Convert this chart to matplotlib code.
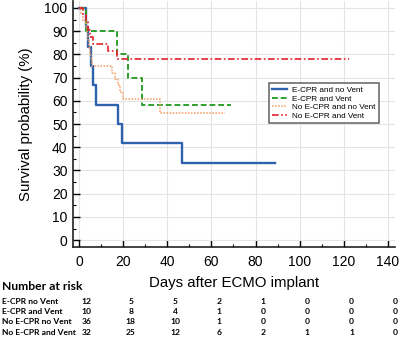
import matplotlib
matplotlib.use("Agg")
import matplotlib.pyplot as plt
from matplotlib.ticker import MultipleLocator
from matplotlib.transforms import blended_transform_factory

# Kaplan-Meier steps (days, survival %)
ecpr_novent_t = [0, 3, 4, 5.5, 6.5, 7.5, 17.5, 19.5, 46.5, 89]
ecpr_novent_s = [100, 91.7, 83.3, 75, 66.7, 58.3, 50, 41.7, 33.3, 33.3]

ecpr_vent_t = [0, 3.2, 17.4, 22.3, 28.4, 69]
ecpr_vent_s = [100, 90, 80, 70, 58.3, 58.3]

noecpr_novent_t = [0, 1, 2, 3, 3.5, 4, 4.5, 5, 5.5, 6, 15, 16.5, 17.5, 18.5, 20, 36.5, 66]
noecpr_novent_s = [100, 97.2, 94.4, 91.7, 88.9, 86.1, 83.3, 80.6, 77.8, 75,
                   72.2, 69.4, 66.7, 63.9, 60.6, 54.6, 54.6]

noecpr_vent_t = [0, 2, 3, 4, 5, 6.5, 13.3, 17.4, 122.3]
noecpr_vent_s = [100, 96.9, 93.8, 90.6, 87.5, 84.4, 81.3, 78.1, 78.1]

risk_days = [0, 20, 40, 60, 80, 100, 120, 140]
risk_labels = ["E-CPR no Vent", "E-CPR and Vent", "No E-CPR no Vent", "No E-CPR and Vent"]
risk_counts = [
    [12, 5, 5, 2, 1, 0, 0, 0],
    [10, 8, 4, 1, 0, 0, 0, 0],
    [36, 18, 10, 1, 0, 0, 0, 0],
    [32, 25, 12, 6, 2, 1, 1, 0],
]

plt.rcParams["font.family"] = ["Liberation Sans", "DejaVu Sans"]
table_font = ["Lato", "DejaVu Sans"]

fig = plt.figure(figsize=(4.0, 3.38), dpi=100)
ax = fig.add_axes([0.1825, 0.269, 0.804, 0.728])

ax.step(ecpr_novent_t, ecpr_novent_s, where="post", color="#2f62ad", lw=1.7,
        label="E-CPR and no Vent")
ax.step(ecpr_vent_t, ecpr_vent_s, where="post", color="#2ea02c", lw=1.4,
        ls=(0, (3, 1.5)), label="E-CPR and Vent")
ax.step(noecpr_novent_t, noecpr_novent_s, where="post", color="#f59a5c", lw=1.1,
        ls=(0, (1, 1)), label="No E-CPR and no Vent")
ax.step(noecpr_vent_t, noecpr_vent_s, where="post", color="#e3202b", lw=1.2,
        ls=(0, (4, 1.5, 1, 1.5)), label="No E-CPR and Vent")

ax.set_xlim(-2.7, 143)
ax.set_ylim(-3, 103)
ax.xaxis.set_major_locator(MultipleLocator(20))
ax.xaxis.set_minor_locator(MultipleLocator(10))
ax.yaxis.set_major_locator(MultipleLocator(10))
ax.yaxis.set_minor_locator(MultipleLocator(5))
ax.grid(True, which="major", color="#e4e4e4", lw=0.8)
ax.set_axisbelow(True)
for side in ("top", "right"):
    ax.spines[side].set_visible(False)
for side in ("left", "bottom"):
    ax.spines[side].set_color("#222222")
    ax.spines[side].set_linewidth(1.2)
ax.tick_params(which="major", direction="in", length=5, width=1, labelsize=10)
ax.tick_params(axis="y", which="major", pad=4)
ax.tick_params(axis="x", which="major", pad=6)
ax.tick_params(which="minor", direction="in", length=2.5, width=0.8)

ax.set_ylabel("Survival probability (%)", fontsize=10.8, labelpad=8)
ax.set_xlabel("Days after ECMO implant", fontsize=10.8, labelpad=5)

leg = ax.legend(loc="upper left", bbox_to_anchor=(0.61, 0.667), fontsize=5.9,
                frameon=True, fancybox=False, handlelength=1.8, borderpad=0.4,
                labelspacing=0.1, handletextpad=0.6, borderaxespad=0)
leg.get_frame().set_edgecolor("#3a3a3a")
leg.get_frame().set_linewidth(1.1)

# number at risk table
trans = blended_transform_factory(ax.transData, fig.transFigure)
fig.text(2 / 400, 1 - 286 / 338, "Number at risk", fontsize=8.7, fontweight="bold",
         family=table_font, va="center", ha="left")
row_y = [301, 311.5, 322, 332.5]
for label, counts, y in zip(risk_labels, risk_counts, row_y):
    fy = 1 - y / 338
    fig.text(2 / 400, fy, label, fontsize=6.1, fontweight="bold",
             family=table_font, va="center", ha="left")
    for d, n in zip(risk_days, counts):
        ax.text(d + 3.5, fy, str(n), transform=trans, fontsize=6.1, fontweight="bold",
                family=table_font, va="center", ha="center", clip_on=False)

fig.savefig("out.png", dpi=100)
